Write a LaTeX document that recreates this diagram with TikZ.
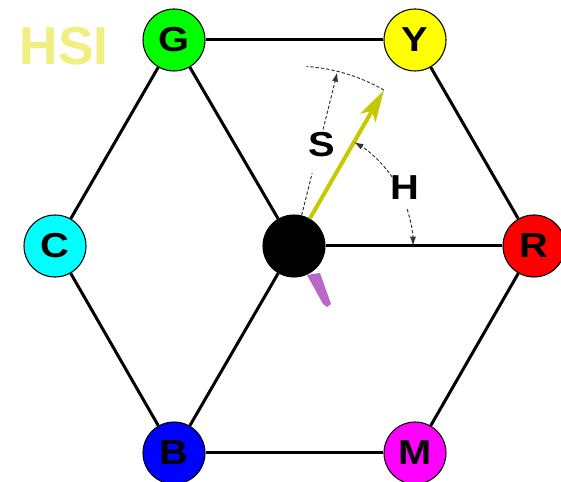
\documentclass[tikz,border=0pt]{standalone}
\usepackage{fontspec}
\setmainfont{Liberation Sans}
\usepackage{graphicx}
\usetikzlibrary{calc,arrows.meta}
\definecolor{hsiyellow}{RGB}{240,240,128}
\definecolor{arrowyellow}{RGB}{200,200,0}
\definecolor{purp}{RGB}{186,104,200}
\definecolor{dashgray}{RGB}{50,50,50}
\definecolor{cG}{RGB}{0,255,0}
\definecolor{cY}{RGB}{255,255,0}
\definecolor{cC}{RGB}{0,255,255}
\definecolor{cR}{RGB}{255,0,0}
\definecolor{cB}{RGB}{0,0,255}
\definecolor{cM}{RGB}{255,0,255}
\newcommand{\lbl}[1]{\scalebox{1.15}[1]{#1}}
\begin{document}
\begin{tikzpicture}[x=0.75pt,y=0.75pt,
  vtx/.style={circle,draw=black,line width=0.8pt,minimum size=46.5pt,inner sep=0pt,
    font=\bfseries\fontsize{26}{26}\selectfont},
  lab/.style={inner sep=1pt,font=\bfseries\fontsize{26}{26}\selectfont},
  edge/.style={line width=2.25pt},
  dimline/.style={dashgray,line width=0.7pt,dash pattern=on 2.5pt off 1.5pt},
  dimtip/.style={-{Latex[length=7pt,width=4.5pt]}}
  ]
\useasboundingbox (0,0) rectangle (561,482);
% purple wedge
\fill[purp] (307,207) -- (320,209) -- (331,178) -- (327,175) -- (323,178) -- cycle;
% title
\node[font=\bfseries\fontsize{40}{40}\selectfont,text=hsiyellow] (title) at (64,436) {HSI};
% vertices
\node[vtx,fill=cG] (G) at (174,442) {\lbl{G}};
\node[vtx,fill=cY] (Y) at (415,442) {\lbl{Y}};
\node[vtx,fill=cC] (C) at (55,236)  {\lbl{C}};
\node[vtx,fill=black] (O) at (294,236) {};
\node[vtx,fill=cR] (R) at (534,236) {\lbl{R}};
\node[vtx,fill=cB] (B) at (174,29)  {\lbl{B}};
\node[vtx,fill=cM] (M) at (415,29)  {\lbl{M}};
% edges
\draw[edge] (G) -- (Y);
\draw[edge] (Y) -- (R);
\draw[edge] (R) -- (M);
\draw[edge] (M) -- (B);
\draw[edge] (B) -- (C);
\draw[edge] (C) -- (G);
\draw[edge] (G) -- (O);
\draw[edge] (O) -- (R);
\draw[edge] (O) -- (B);
% yellow vector
\coordinate (Stip) at ($(O.center)+(60:180)$);
\draw[arrowyellow,line width=3pt,-{Stealth[length=24pt,width=13pt,inset=6pt]}] (O.60) -- (Stip);
% S
\draw[dimline] (Stip) arc[start angle=60,end angle=86,radius=180];
\node[lab] (Slbl) at (322,337) {\lbl{S}};
\coordinate (Sa) at ($(O.center)+(76:75)$);
\coordinate (Sb) at ($(O.center)+(76:120)$);
\coordinate (Sc) at ($(O.center)+(76:179)$);
\draw[dimline] (O.76) -- (Sa);
\draw[dimline,dimtip] (Sb) -- (Sc);
% H
\node[lab] (Hlbl) at (405,294) {\lbl{H}};
\draw[dimline,dimtip] ($(O.center)+(35:120)$) arc[start angle=35,end angle=60,radius=120];
\draw[dimline,dimtip] ($(O.center)+(18:119)$) arc[start angle=18,end angle=0,radius=119];
\end{tikzpicture}
\end{document}
